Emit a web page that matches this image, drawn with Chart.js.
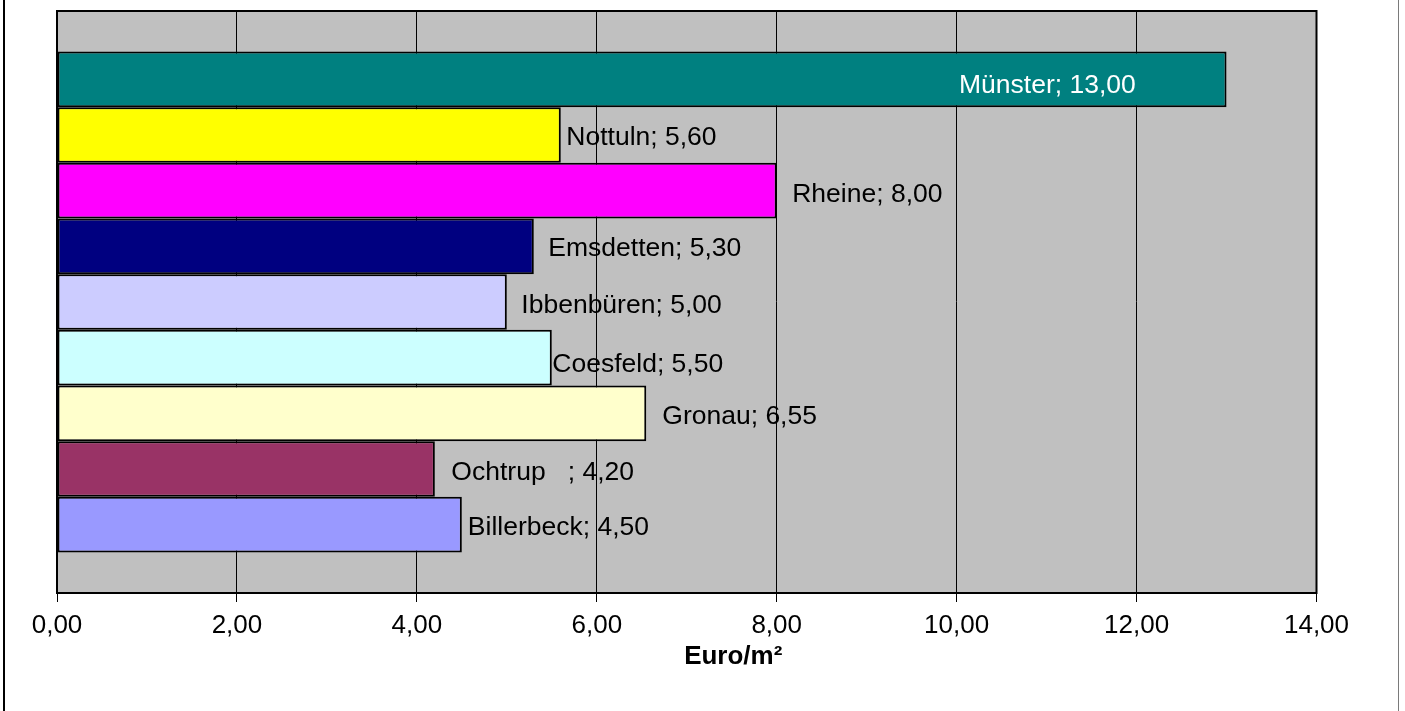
<!DOCTYPE html>
<html>
<head>
<meta charset="utf-8">
<script src="https://cdn.jsdelivr.net/npm/chart.js@4/dist/chart.umd.min.js"></script>
<style>
  html, body { margin: 0; padding: 0; background: #ffffff; }
  #wrap { position: relative; width: 1405px; height: 711px; }
  canvas { display: block; }
</style>
</head>
<body>
<div id="wrap"><canvas id="c" width="1405" height="711"></canvas></div>
<script>
// ---- data ----
const categories = ['Münster', 'Nottuln', 'Rheine', 'Emsdetten', 'Ibbenbüren', 'Coesfeld', 'Gronau', 'Ochtrup   ', 'Billerbeck'];
const values = [13.00, 5.60, 8.00, 5.30, 5.00, 5.50, 6.55, 4.20, 4.50];
const xTickValues = [0, 2, 4, 6, 8, 10, 12, 14];
const axisTitle = 'Euro/m²';

// ---- styles ----
const barColors = ['#008080', '#FFFF00', '#FF00FF', '#000080', '#CCCCFF', '#CCFFFF', '#FFFFCC', '#993366', '#9999FF'];
const labelColors = ['#ffffff', '#000', '#000', '#000', '#000', '#000', '#000', '#000', '#000'];
const labelDx = [-267.5, 5.5, 15.5, 14.5, 14.5, 0.5, 16, 16.5, 6];
const labelDy = [4.5, 0.5, 1.5, 0.5, 1.5, 4.5, 1, 1, 1];
const FONT = "'Liberation Sans', Arial, sans-serif";
const fmt = v => v.toFixed(2).replace('.', ',');

const datasets = categories.map((name, i) => ({
  label: name,
  data: [values[i]],
  backgroundColor: barColors[i],
  borderColor: '#000000',
  borderWidth: 2,
  borderSkipped: false,
  inflateAmount: 0,
  categoryPercentage: 0.861,
  barPercentage: 1.0
}));

const framePlugin = {
  id: 'frame',
  beforeDraw(chart) {
    const ctx = chart.ctx, a = chart.chartArea;
    ctx.save();
    ctx.fillStyle = '#ffffff';
    ctx.fillRect(0, 0, chart.width, chart.height);
    ctx.fillStyle = '#C0C0C0';
    ctx.fillRect(a.left, a.top, a.right - a.left, a.bottom - a.top);
    // outer frame lines
    ctx.fillStyle = '#000000';
    ctx.fillRect(3, 0, 2, chart.height);
    ctx.fillStyle = '#7a7a7a';
    ctx.fillRect(1398, 0, 1, chart.height);
    ctx.restore();
  },
  afterDatasetsDraw(chart) {
    const ctx = chart.ctx, a = chart.chartArea;
    ctx.save();
    ctx.strokeStyle = '#000000';
    ctx.lineWidth = 2;
    ctx.strokeRect(a.left, a.top, a.right - a.left, a.bottom - a.top);
    ctx.font = '26.5px ' + FONT;
    ctx.textAlign = 'left';
    ctx.textBaseline = 'alphabetic';
    chart.data.datasets.forEach((ds, i) => {
      const el = chart.getDatasetMeta(i).data[0];
      const text = categories[i] + '; ' + fmt(values[i]);
      ctx.fillStyle = labelColors[i];
      ctx.fillText(text, el.x + labelDx[i], el.y + labelDy[i] + 9.5);
    });
    // axis title (offset to the right of the plot centre, as in the original)
    ctx.font = 'bold 26px ' + FONT;
    ctx.textAlign = 'center';
    ctx.textBaseline = 'middle';
    ctx.fillStyle = '#000';
    ctx.fillText(axisTitle, chart.scales.x.getPixelForValue(7) + 46.5, 657);
    ctx.restore();
  }
};

new Chart(document.getElementById('c'), {
  type: 'bar',
  data: { labels: [''], datasets },
  options: {
    indexAxis: 'y',
    responsive: false,
    animation: false,
    events: [],
    layout: { padding: { left: 57, right: 88.5, top: 11, bottom: 38 } },
    plugins: { legend: { display: false }, tooltip: { enabled: false } },
    scales: {
      y: { display: false },
      x: {
        type: 'linear',
        min: 0,
        max: 14,
        afterBuildTicks(scale) { scale.ticks = xTickValues.map(v => ({ value: v })); },
        afterFit(scale) { scale.height = 80; },
        ticks: {
          color: '#000',
          padding: 8,
          font: { family: FONT, size: 26 },
          callback: v => fmt(v)
        },
        grid: { color: '#000', lineWidth: 1, drawTicks: true, tickLength: 9, tickColor: '#000' },
        border: { display: true, color: '#000', width: 2 },
        title: { display: false }
      }
    }
  },
  plugins: [framePlugin]
});
</script>
</body>
</html>
